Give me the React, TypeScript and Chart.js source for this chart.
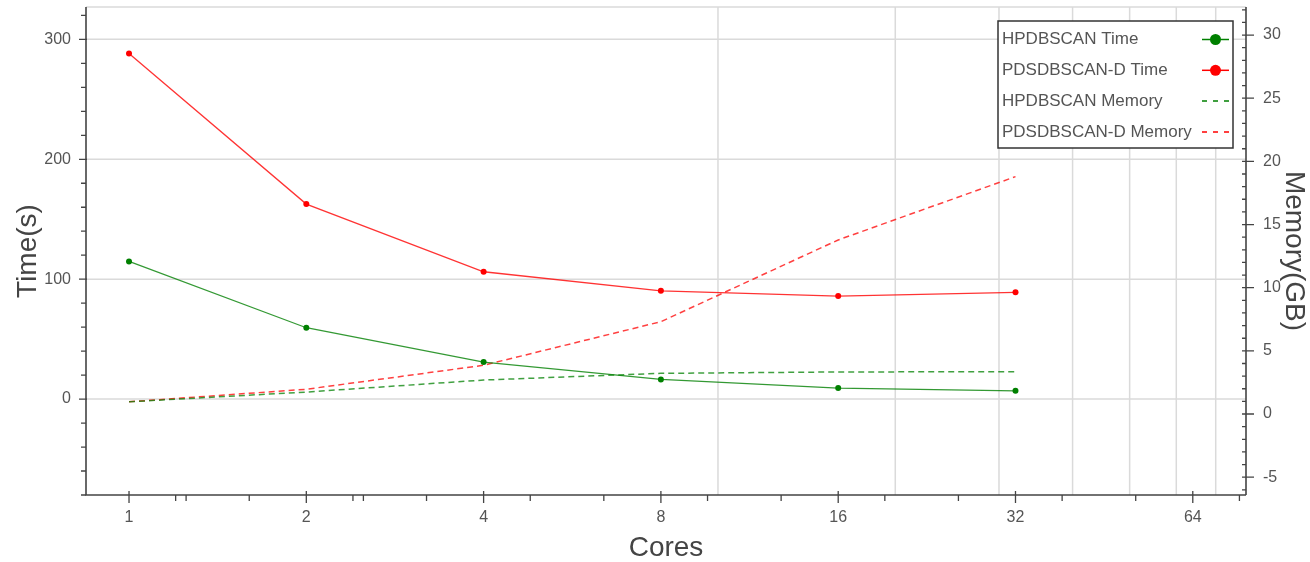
import React, { useEffect, useRef } from 'react';
import { Chart, registerables } from 'chart.js';

Chart.register(...registerables);

// ---- data ----
const cores = [1, 2, 4, 8, 16, 32];
const hpdbscanTime = [114.8, 59.5, 30.9, 16.4, 9.2, 6.9];
const pdsdbscanTime = [288.3, 162.6, 106.2, 90.3, 85.9, 89.0];
const hpdbscanMemory = [0.97, 1.74, 2.69, 3.22, 3.33, 3.35];
const pdsdbscanMemory = [0.97, 1.96, 3.86, 7.31, 13.78, 18.79];

// ---- ticks ----
const xTickLabels = [1, 2, 4, 8, 16, 32, 64];
const xMinorTicks = [1.2, 1.25, 1.6, 2.4, 2.5, 3.2, 4.8, 6.4, 9.6, 12.8, 19.2, 25.6, 38.4, 51.2, 76.8];
const xGridValues = [10, 20, 30, 40, 50, 60, 70];
const timeMajorTicks = [0, 100, 200, 300];
const timeMinorTicks = [-80, -60, -40, -20, 20, 40, 60, 80, 120, 140, 160, 180, 220, 240, 260, 280, 320];
const memMajorTicks = [-5, 0, 5, 10, 15, 20, 25, 30];
const memMinorTicks = [-6, -4, -3, -2, -1, 1, 2, 3, 4, 6, 7, 8, 9, 11, 12, 13, 14, 16, 17, 18, 19, 21, 22, 23, 24, 26, 27, 28, 29, 31, 32];

const FONT = '"Liberation Sans", Arial, sans-serif';
const GREEN = '#008000';
const RED = '#ff0000';

const toPoints = (ys: number[]) => ys.map((v, i) => ({ x: cores[i], y: v }));

const decorPlugin = {
  id: 'decor',
  beforeDatasetsDraw(chart: any) {
    const { ctx, chartArea: a, scales } = chart;
    const x = scales.x;
    const y = scales.y;
    ctx.save();
    ctx.strokeStyle = '#dadada';
    ctx.lineWidth = 1.5;
    ctx.beginPath();
    for (const v of xGridValues) {
      const px = x.getPixelForValue(v);
      ctx.moveTo(px, a.top);
      ctx.lineTo(px, a.bottom);
    }
    for (const v of timeMajorTicks) {
      const py = y.getPixelForValue(v);
      ctx.moveTo(a.left, py);
      ctx.lineTo(a.right, py);
    }
    ctx.moveTo(a.left, a.top);
    ctx.lineTo(a.right, a.top);
    ctx.stroke();
    ctx.restore();
  },
  afterDatasetsDraw(chart: any) {
    const { ctx, chartArea: a, scales } = chart;
    const x = scales.x;
    const y = scales.y;
    const y2 = scales.y2;
    ctx.save();
    ctx.strokeStyle = '#444';
    ctx.lineWidth = 1.6;
    ctx.beginPath();
    ctx.moveTo(a.left, a.top);
    ctx.lineTo(a.left, a.bottom);
    ctx.lineTo(a.right, a.bottom);
    ctx.moveTo(a.right, a.top);
    ctx.lineTo(a.right, a.bottom);
    ctx.stroke();

    ctx.lineWidth = 1.3;
    ctx.beginPath();
    for (const v of timeMajorTicks) {
      const py = y.getPixelForValue(v);
      ctx.moveTo(a.left - 7, py);
      ctx.lineTo(a.left + 1, py);
    }
    for (const v of timeMinorTicks) {
      const py = y.getPixelForValue(v);
      ctx.moveTo(a.left - 5, py);
      ctx.lineTo(a.left, py);
    }
    for (const v of xTickLabels) {
      const px = x.getPixelForValue(v);
      ctx.moveTo(px, a.bottom - 4);
      ctx.lineTo(px, a.bottom + 8);
    }
    for (const v of xMinorTicks) {
      const px = x.getPixelForValue(v);
      ctx.moveTo(px, a.bottom);
      ctx.lineTo(px, a.bottom + 6);
    }
    for (const v of memMajorTicks) {
      const py = y2.getPixelForValue(v);
      ctx.moveTo(a.right - 4, py);
      ctx.lineTo(a.right + 8, py);
    }
    for (const v of memMinorTicks) {
      const py = y2.getPixelForValue(v);
      ctx.moveTo(a.right - 4, py);
      ctx.lineTo(a.right, py);
    }
    ctx.stroke();

    // legend
    const lx = 998, ly = 21, lw = 235, lh = 127;
    ctx.fillStyle = '#fff';
    ctx.fillRect(lx, ly, lw, lh);
    ctx.strokeStyle = '#333';
    ctx.lineWidth = 1.5;
    ctx.strokeRect(lx, ly, lw, lh);
    ctx.font = '17px ' + FONT;
    ctx.textBaseline = 'middle';
    ctx.textAlign = 'left';
    chart.data.datasets.forEach((ds: any, i: number) => {
      const cy = 39.5 + i * 30.8;
      ctx.fillStyle = '#555';
      ctx.fillText(ds.label, 1002, cy);
      ctx.strokeStyle = ds.legendColor;
      ctx.lineWidth = 1.5;
      ctx.setLineDash(ds.borderDash && ds.borderDash.length ? [5, 6] : []);
      ctx.beginPath();
      ctx.moveTo(1202, cy);
      ctx.lineTo(1229, cy);
      ctx.stroke();
      ctx.setLineDash([]);
      if (ds.pointRadius > 0) {
        ctx.fillStyle = ds.legendColor;
        ctx.beginPath();
        ctx.arc(1215.5, cy, 5.5, 0, Math.PI * 2);
        ctx.fill();
      }
    });
    ctx.restore();
  },
};

const zeroPad = (s: any) => {
  s.paddingTop = 0;
  s.paddingBottom = 0;
  s.paddingLeft = 0;
  s.paddingRight = 0;
};

export default function App() {
  const canvasRef = useRef<HTMLCanvasElement | null>(null);

  useEffect(() => {
    document.body.style.margin = '0';
    const canvas = canvasRef.current;
    if (!canvas) return;
    const chart = new Chart(canvas, {
      type: 'line',
      data: {
        datasets: [
          {
            label: 'HPDBSCAN Time',
            data: toPoints(hpdbscanTime),
            yAxisID: 'y',
            borderColor: 'rgba(0,128,0,0.8)',
            backgroundColor: GREEN,
            pointBackgroundColor: GREEN,
            pointBorderWidth: 0,
            pointRadius: 3,
            borderWidth: 1.3,
            tension: 0,
            legendColor: GREEN,
          } as any,
          {
            label: 'PDSDBSCAN-D Time',
            data: toPoints(pdsdbscanTime),
            yAxisID: 'y',
            borderColor: 'rgba(255,0,0,0.8)',
            backgroundColor: RED,
            pointBackgroundColor: RED,
            pointBorderWidth: 0,
            pointRadius: 3,
            borderWidth: 1.3,
            tension: 0,
            legendColor: RED,
          } as any,
          {
            label: 'HPDBSCAN Memory',
            data: toPoints(hpdbscanMemory),
            yAxisID: 'y2',
            borderColor: 'rgba(0,128,0,0.75)',
            borderDash: [6, 4],
            pointRadius: 0,
            borderWidth: 1.5,
            tension: 0,
            legendColor: GREEN,
          } as any,
          {
            label: 'PDSDBSCAN-D Memory',
            data: toPoints(pdsdbscanMemory),
            yAxisID: 'y2',
            borderColor: 'rgba(255,0,0,0.75)',
            borderDash: [6, 4],
            pointRadius: 0,
            borderWidth: 1.5,
            tension: 0,
            legendColor: RED,
          } as any,
        ],
      },
      options: {
        responsive: false,
        maintainAspectRatio: false,
        animation: false,
        devicePixelRatio: 1,
        layout: { padding: { top: 7, left: 0, right: 0, bottom: 0 } },
        plugins: { legend: { display: false }, tooltip: { enabled: false } },
        scales: {
          x: {
            type: 'logarithmic',
            position: 'bottom',
            min: 0.8452,
            max: 78.8,
            afterBuildTicks: (s: any) => {
              s.ticks = xTickLabels.map((v) => ({ value: v }));
            },
            afterFit: (s: any) => {
              s.height = 67;
              zeroPad(s);
            },
            grid: { display: false, drawTicks: false },
            border: { display: false },
            ticks: {
              autoSkip: false,
              maxRotation: 0,
              padding: 13,
              color: '#555',
              font: { family: FONT, size: 16 },
              callback: (v: any) => String(v),
            },
            title: {
              display: true,
              text: 'Cores',
              color: '#444',
              font: { family: FONT, size: 28, lineHeight: 1 },
              padding: { top: 0, bottom: 0 },
            },
          },
          y: {
            type: 'linear',
            position: 'left',
            min: -80,
            max: 327,
            afterBuildTicks: (s: any) => {
              s.ticks = timeMajorTicks.map((v) => ({ value: v }));
            },
            afterFit: (s: any) => {
              s.width = 86;
              zeroPad(s);
            },
            grid: { display: false, drawTicks: false },
            border: { display: false },
            ticks: {
              padding: 15,
              color: '#555',
              font: { family: FONT, size: 16 },
              callback: (v: any) => String(v),
            },
            title: {
              display: true,
              text: 'Time(s)',
              color: '#444',
              font: { family: FONT, size: 28, lineHeight: 1 },
              padding: { top: 14, bottom: 0 },
            },
          },
          y2: {
            type: 'linear',
            position: 'right',
            min: -6.41,
            max: 32.22,
            afterBuildTicks: (s: any) => {
              s.ticks = memMajorTicks.map((v) => ({ value: v }));
            },
            afterFit: (s: any) => {
              s.width = 64;
              zeroPad(s);
            },
            grid: { display: false, drawTicks: false },
            border: { display: false },
            ticks: {
              padding: 17,
              color: '#555',
              font: { family: FONT, size: 16 },
              callback: (v: any) => String(v),
            },
            title: {
              display: true,
              text: 'Memory(GB)',
              color: '#444',
              font: { family: FONT, size: 28, lineHeight: 1 },
              padding: { top: 2, bottom: 0 },
            },
          },
        },
      } as any,
      plugins: [decorPlugin],
    });
    return () => chart.destroy();
  }, []);

  return (
    <div style={{ width: 1310, height: 562, overflow: 'hidden' }}>
      <canvas ref={canvasRef} width={1310} height={562} style={{ display: 'block' }} />
    </div>
  );
}
